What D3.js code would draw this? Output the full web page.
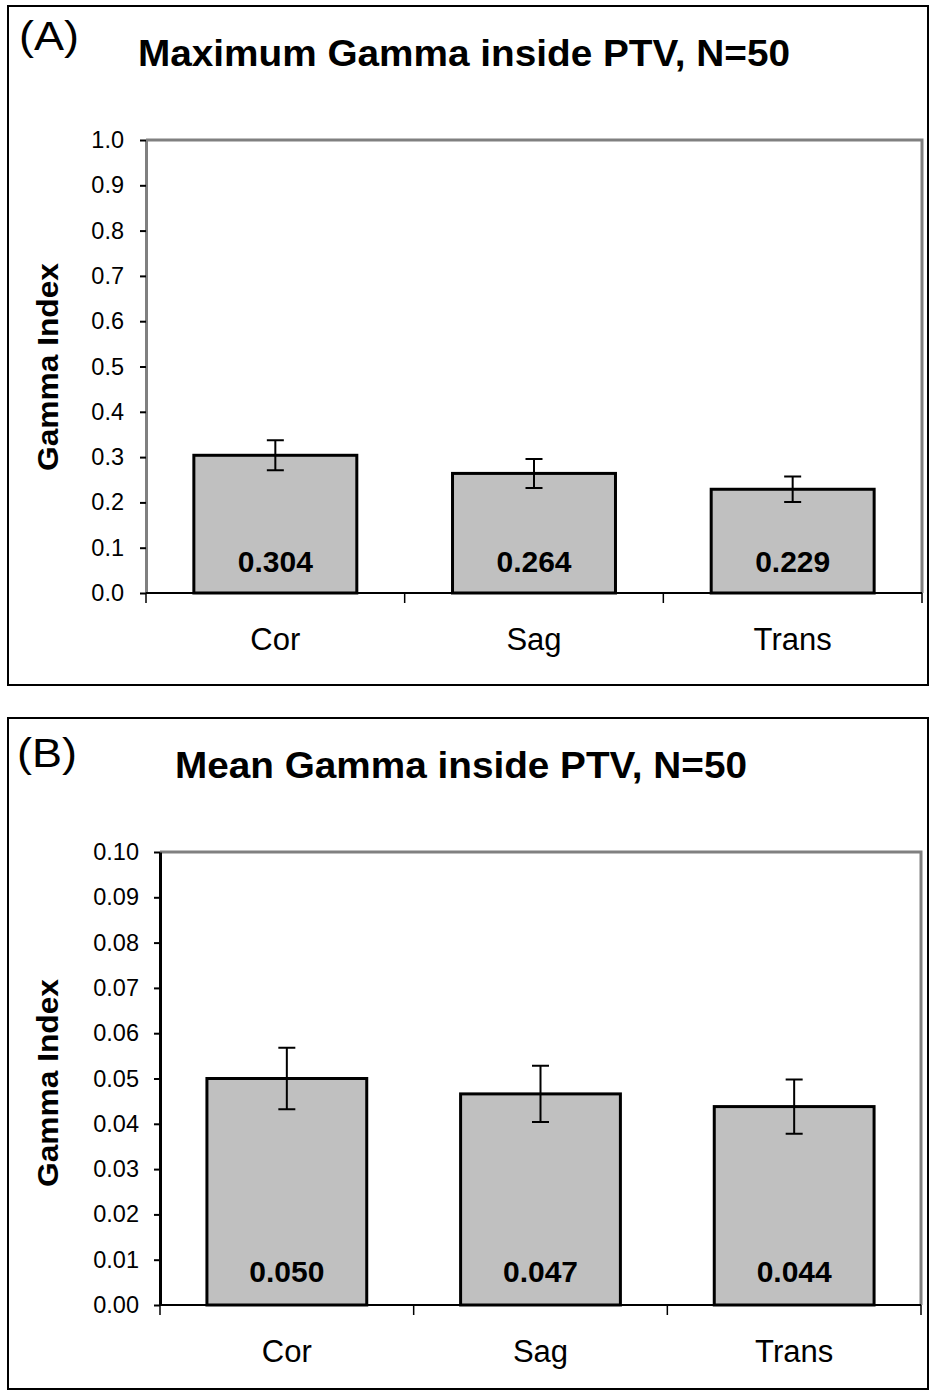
<!DOCTYPE html>
<html><head><meta charset="utf-8">
<script src="https://cdn.jsdelivr.net/npm/d3@7"></script>
<style>body{margin:0;background:#fff}svg{display:block}text{font-family:"Liberation Sans",Arial,sans-serif}</style>
</head><body>
<script>
const categories = ["Cor","Sag","Trans"];
const maxValues = [0.304,0.264,0.229];
const maxErrors = [0.033,0.032,0.028];
const maxLabels = ["0.304","0.264","0.229"];
const maxTicks = [0,0.1,0.2,0.3,0.4,0.5,0.6,0.7,0.8,0.9,1.0];
const meanValues = [0.050,0.0466,0.0438];
const meanErrors = [0.0068,0.0062,0.006];
const meanLabels = ["0.050","0.047","0.044"];
const meanTicks = [0,0.01,0.02,0.03,0.04,0.05,0.06,0.07,0.08,0.09,0.10];

const svg = d3.select("body").append("svg").attr("width",929).attr("height",1391);

function panel(o){
  const g = svg.append("g");
  g.append("rect").attr("x",o.fx).attr("y",o.fy).attr("width",o.fw).attr("height",o.fh)
    .attr("fill","none").attr("stroke","#000").attr("stroke-width",2);
  g.append("text").attr("x",o.lx).attr("y",o.ly).attr("font-size",40).attr("textLength",60).attr("lengthAdjust","spacingAndGlyphs").text(o.letter);
  g.append("text").attr("x",o.tx).attr("y",o.ty).attr("text-anchor","middle")
    .attr("font-size",36).attr("font-weight","bold")
    .attr("textLength",o.tlen).attr("lengthAdjust","spacingAndGlyphs").text(o.title);
  const x = d3.scaleBand().domain(categories).range([o.l,o.r]).paddingInner(0.37).paddingOuter(0.185);
  const xb = d3.scaleBand().domain(categories).range([o.l,o.r]);
  const y = d3.scaleLinear().domain([0,o.max]).range([o.b,o.t]);
  g.append("path").attr("d",`M${o.l},${o.t}H${o.r}V${o.b}`).attr("fill","none").attr("stroke","#808080").attr("stroke-width",3);
  g.selectAll(".bar").data(o.values).join("rect")
    .attr("x",(d,i)=>x(categories[i])).attr("width",x.bandwidth())
    .attr("y",d=>y(d)).attr("height",d=>o.b-y(d))
    .attr("fill","#c0c0c0").attr("stroke","#000").attr("stroke-width",3);
  o.values.forEach((v,i)=>{
    const cx = x(categories[i])+x.bandwidth()/2;
    const y1=y(v+o.errors[i]), y2=y(v-o.errors[i]);
    g.append("path").attr("d",`M${cx},${y1}V${y2}M${cx-8.5},${y1}H${cx+8.5}M${cx-8.5},${y2}H${cx+8.5}`)
      .attr("stroke","#000").attr("stroke-width",2).attr("fill","none");
    g.append("text").attr("x",cx).attr("y",o.b-o.vOff).attr("text-anchor","middle")
      .attr("font-size",30).attr("font-weight","bold").text(o.labels[i]);
  });
  const ya = g.append("g").attr("transform",`translate(${o.l},0)`)
    .call(d3.axisLeft(y).tickValues(o.ticks).tickFormat(d3.format(o.fmt)).tickSize(6).tickSizeOuter(0).tickPadding(o.pad));
  ya.select(".domain").attr("stroke",o.leftColor).attr("stroke-width",3);
  ya.selectAll(".tick line").attr("stroke","#000").attr("stroke-width",2);
  ya.selectAll(".tick text").attr("font-size",23.5).attr("fill","#000").attr("font-family","Liberation Sans, Arial, sans-serif");
  g.append("line").attr("x1",o.l).attr("x2",o.r).attr("y1",o.b).attr("y2",o.b).attr("stroke","#000").attr("stroke-width",2);
  const bounds = [o.l].concat(categories.map(c=>xb(c)+xb.bandwidth()));
  g.selectAll(".xt").data(bounds).join("line").attr("x1",d=>d).attr("x2",d=>d)
    .attr("y1",o.b).attr("y2",o.b+10).attr("stroke","#000").attr("stroke-width",1.5);
  g.selectAll(".xl").data(categories).join("text").attr("x",d=>xb(d)+xb.bandwidth()/2)
    .attr("y",o.b+57).attr("text-anchor","middle").attr("font-size",31).text(d=>d);
  g.append("text").attr("transform",`translate(${o.yl},${o.yc}) rotate(-90)`)
    .attr("text-anchor","middle").attr("font-size",30).attr("font-weight","bold")
    .attr("textLength",208).attr("lengthAdjust","spacingAndGlyphs").text("Gamma Index");
}

panel({fx:8,fy:6,fw:920,fh:679,letter:"(A)",lx:19,ly:50,title:"Maximum Gamma inside PTV, N=50",tx:464,ty:66,tlen:652,
  l:146,r:922,t:140,b:593,max:1.0,values:maxValues,errors:maxErrors,labels:maxLabels,ticks:maxTicks,fmt:".1f",pad:16,
  yl:58,yc:367,vOff:21,leftColor:"#808080"});
panel({fx:8,fy:718,fw:920,fh:671,letter:"(B)",lx:17,ly:767,title:"Mean Gamma inside PTV, N=50",tx:461,ty:778,tlen:572,
  l:160,r:921,t:852,b:1305,max:0.10,values:meanValues,errors:meanErrors,labels:meanLabels,ticks:meanTicks,fmt:".2f",pad:15,
  yl:58,yc:1083,vOff:23,leftColor:"#000"});
</script>
</body></html>
